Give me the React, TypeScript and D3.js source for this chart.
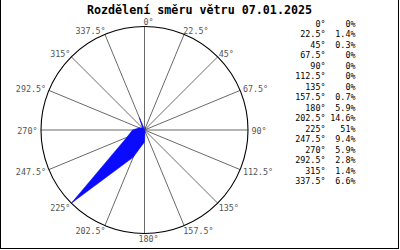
import React from "react";
import * as d3 from "d3";

const title = "Rozdělení směru větru 07.01.2025";
const directions = [0, 22.5, 45, 67.5, 90, 112.5, 135, 157.5, 180, 202.5, 225, 247.5, 270, 292.5, 315, 337.5];
const dirLabels = ["0°", "22.5°", "45°", "67.5°", "90°", "112.5°", "135°", "157.5°", "180°", "202.5°", "225°", "247.5°", "270°", "292.5°", "315°", "337.5°"];
const percents = [0, 1.4, 0.3, 0, 0, 0, 0, 0.7, 5.9, 14.6, 51, 9.4, 5.9, 2.8, 1.4, 6.6];
const percentLabels = ["0%", "1.4%", "0.3%", "0%", "0%", "0%", "0%", "0.7%", "5.9%", "14.6%", "51%", "9.4%", "5.9%", "2.8%", "1.4%", "6.6%"];

const W = 400;
const H = 250;
const cx = 144.5;
const cy = 130;
const R = 103.5;
const mono = "'DejaVu Sans Mono', 'Liberation Mono', monospace";

export default function App() {
  const rScale = d3.scaleLinear().domain([0, d3.max(percents) as number]).range([0, R]);
  const toRad = (deg: number) => (deg * Math.PI) / 180;

  const radial = d3
    .lineRadial<number>()
    .angle((_, i) => toRad(directions[i]))
    .radius((d) => rScale(d))
    .curve(d3.curveLinearClosed);
  const roseD = radial(percents) || "";

  const pt = (deg: number, r: number) => [cx + r * Math.sin(toRad(deg)), cy - r * Math.cos(toRad(deg))];

  return (
    <svg
      width={W}
      height={H}
      style={{ position: "absolute", left: 0, top: 0, background: "#fff" }}
      shapeRendering="crispEdges"
    >
      <rect x={0} y={0} width={W} height={H} fill="#fff" />
      {/* frame */}
      <line x1={0.5} y1={0} x2={0.5} y2={249} stroke="#000" />
      <line x1={398.5} y1={0} x2={398.5} y2={249} stroke="#000" />
      <line x1={0} y1={248.5} x2={399} y2={248.5} stroke="#000" />

      <text
        x={199.5}
        y={13.5}
        textAnchor="middle"
        fontFamily={mono}
        fontWeight="bold"
        fontSize={11.7}
        fill="#000"
      >
        {title}
      </text>

      {/* spokes */}
      {directions.map((d, i) => {
        const [x, y] = pt(d, R);
        return (
          <line
            key={"s" + i}
            x1={cx}
            y1={cy}
            x2={x}
            y2={y}
            stroke="#6a6a6a"
            strokeWidth={1}
            shapeRendering="auto"
          />
        );
      })}
      <circle cx={cx} cy={cy} r={R} fill="none" stroke="#000" strokeWidth={1.1} shapeRendering="auto" />

      {/* rose */}
      <path d={roseD} transform={`translate(${cx},${cy})`} fill="#0a0aff" stroke="#0a0aff" strokeWidth={0.5} shapeRendering="auto" />

      {/* direction labels around the circle */}
      {directions.map((d, i) => {
        const [ex, ey] = pt(d, R);
        const s = Math.sin(toRad(d));
        const c = Math.cos(toRad(d));
        const dy = 5 * (1 - c) - 1.2;
        let anchor: "start" | "end" | "middle" = "middle";
        let x = ex + 4;
        if (s > 0.01) {
          anchor = "start";
          x = ex + 5 * s * s - 1.5;
        } else if (s < -0.01) {
          anchor = "end";
          x = ex - (5 * s * s - 1.5);
        }
        return (
          <text
            key={"l" + i}
            x={x}
            y={ey + dy}
            textAnchor={anchor}
            fontFamily={mono}
            fontSize={8.4}
            fill="#555"
          >
            {dirLabels[i]}
          </text>
        );
      })}

      {/* table */}
      {directions.map((d, i) => (
        <g key={"t" + i}>
          <text x={325.5} y={26.8 + i * 10.5} textAnchor="end" fontFamily={mono} fontSize={8.4} fill="#000">
            {dirLabels[i]}
          </text>
          <text x={355.5} y={26.8 + i * 10.5} textAnchor="end" fontFamily={mono} fontSize={8.4} fill="#000">
            {percentLabels[i]}
          </text>
        </g>
      ))}
    </svg>
  );
}
